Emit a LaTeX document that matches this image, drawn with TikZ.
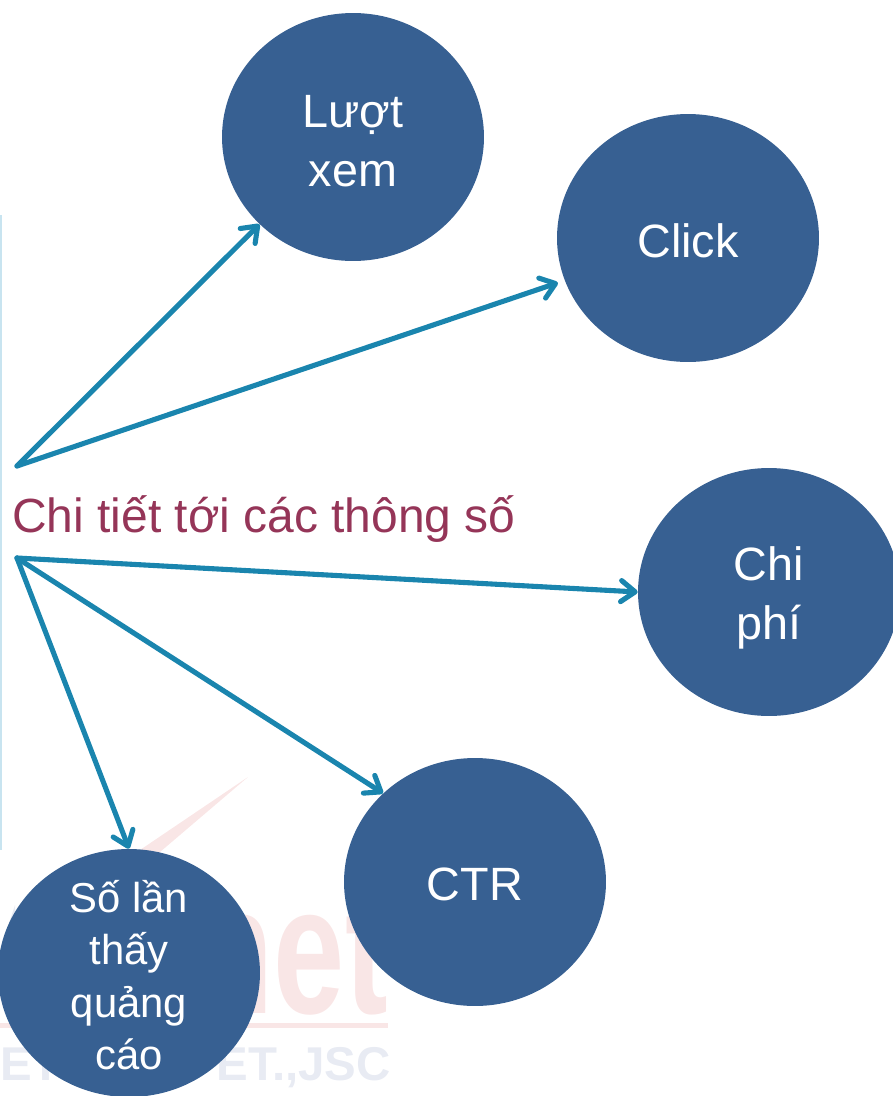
\documentclass[tikz,border=0pt]{standalone}
\usepackage{graphicx}
\usepackage{fontspec}
\setmainfont{Liberation Sans}
\usetikzlibrary{arrows.meta,shapes.geometric}
\definecolor{bubble}{HTML}{376092}
\definecolor{arrowblue}{HTML}{1A85AE}
\definecolor{titlered}{HTML}{953558}
\definecolor{markpink}{HTML}{F9E6E6}
\definecolor{markgrey}{HTML}{E8EBF3}
\definecolor{edgeblue}{HTML}{C8E4F0}
\tikzset{
  bubblenode/.style={ellipse,fill=bubble,inner sep=0pt,minimum width=5.24cm,minimum height=4.96cm},
  bubbletext/.style={text=white,inner sep=0pt,align=center,font=\fontsize{26.6}{33.5}\selectfont},
  linkarrow/.style={draw=arrowblue,line width=2.9pt,line cap=round,-{Straight Barb[round,length=8pt,width=12pt]}}
}
\begin{document}
\begin{tikzpicture}[x={0.02cm},y={-0.02cm}]
\useasboundingbox(0,0)rectangle(893,1096);
% faint mark behind the bubbles
\fill[markpink](248,777)--(140,850)--(160,852)--cycle;
\fill[markgrey](0,950)--(15,905)--(15,950)--cycle;
\node[anchor=base east,text=markpink,inner sep=0pt,font=\fontsize{104}{104}\bfseries\selectfont\rmfamily](marknet)at(388,1013){\smash{\scalebox{0.7}[1]{net}}};
\fill[markpink](0,1023)rectangle(388,1028);
\node[anchor=base east,text=markgrey,inner sep=0pt,font=\fontsize{27}{27}\bfseries\selectfont](markjsc)at(391,1080){ET.,JSC};
\node[anchor=base west,text=markgrey,inner sep=0pt,font=\fontsize{27}{27}\bfseries\selectfont](markleft)at(0,1080){ET};
\fill[edgeblue](0,215)rectangle(2,850);
% bubbles
\node[bubblenode](luot)at(353,137){};
\node[bubblenode](click)at(688,238){};
\node[bubblenode](chiphi)at(769,592){};
\node[bubblenode](ctr)at(475,882){};
\node[bubblenode](solan)at(129,973){};
\node[bubbletext](luottext)at(353,141){Lượt\\xem};
\node[bubbletext](clicktext)at(688,241){Click};
\node[bubbletext](chiphitext)at(769,598){Chi\\phí};
\node[bubbletext](ctrtext)at(475,884){CTR};
\node[bubbletext,font=\fontsize{23.8}{29.8}\selectfont](solantext)at(129,975){Số lần\\thấy\\quảng\\cáo};
\node[text=titlered,anchor=base west,inner sep=0pt,font=\fontsize{27.3}{27.3}\selectfont](title)at(12,532){Chi tiết tới các thông số};
\coordinate(hubtop)at(17,466);
\coordinate(hubbot)at(17,558);
\draw[linkarrow](hubtop)--(luot.223.5);
\draw[linkarrow,shorten >=4pt](hubtop)--(click.199.5);
\draw[linkarrow](hubbot)--(chiphi.west);
\draw[linkarrow](hubbot)--(ctr.136);
\draw[linkarrow](hubbot)--(solan.north);
\end{tikzpicture}
\end{document}
